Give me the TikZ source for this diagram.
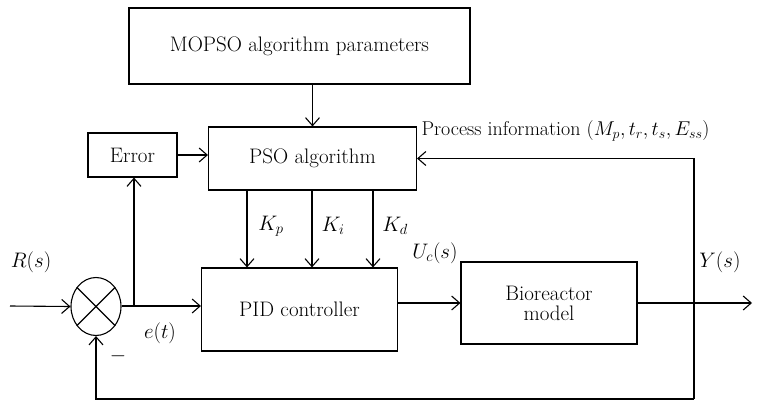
\RequirePackage{fix-cm}
\documentclass[tikz,border=0pt]{standalone}
\usepackage{fontspec}
\usetikzlibrary{arrows.meta,shapes.geometric}
\begin{document}
\begin{tikzpicture}[x=1pt,y=-1pt,
  font=\fontsize{21}{24}\selectfont,
  every path/.style={line width=1.1pt},
  blk/.style={draw,rectangle,align=center,inner sep=0pt},
  arr/.style={-{Straight Barb[length=8pt,width=14pt]}},
  lbl/.style={inner sep=0pt}]
\useasboundingbox (0,0) rectangle (761,402);
\node[blk,minimum width=341pt,minimum height=76pt] (mopso) at (299.5,46) {MOPSO algorithm parameters};
\node[blk,minimum width=208pt,minimum height=63pt] (pso) at (312.5,158.5) {PSO algorithm};
\node[blk,minimum width=89pt,minimum height=44pt] (err) at (132.5,155) {Error};
\node[blk,minimum width=196pt,minimum height=83pt] (pid) at (299.5,309.5) {PID controller};
\node[blk,minimum width=176pt,minimum height=82pt] (bio) at (549,303) {Bioreactor\\[-4pt]model};
\node[draw,ellipse,minimum width=50pt,minimum height=58pt,inner sep=0pt] (sum) at (96,306.5) {};
\draw (sum.45) -- (sum.225) (sum.135) -- (sum.-45);
\coordinate (in) at (10,306);
\coordinate (j) at (134,306);
\coordinate (out) at (752,303);
\coordinate (fb) at (694,399);
\coordinate (k1) at (247,190);
\coordinate (k2) at (312,190);
\coordinate (k3) at (373,190);
\draw[arr] (in) -- (sum.west);
\draw[arr] (sum.east |- j) -- (j -| pid.west);
\draw[arr] (j) -- (j |- err.south);
\draw[arr] (err.east) -- (err.east -| pso.west);
\draw[arr] (pso.north |- mopso.south) -- (pso.north);
\draw[arr] (k1) -- (k1 |- pid.north);
\draw[arr] (k2) -- (k2 |- pid.north);
\draw[arr] (k3) -- (k3 |- pid.north);
\draw[arr] (bio.west -| pid.east) -- (bio.west);
\draw[arr] (bio.east) -- (out);
\draw[arr] (fb) |- (pso.east);
\draw[arr] (fb) -| (sum.south);
\node[lbl] (lr) at (31,262) {$R(s)$};
\node[lbl] (le) at (160,333) {$e(t)$};
\node[lbl] (lm) at (118,356) {$-$};
\node[lbl] (lkp) at (271,226) {$K_p$};
\node[lbl] (lki) at (333,226) {$K_i$};
\node[lbl] (lkd) at (395,226) {$K_d$};
\node[lbl] (lu) at (435,253) {$U_c(s)$};
\node[lbl] (ly) at (720,262) {$Y(s)$};
\node[lbl,anchor=west,font=\fontsize{20}{24}\selectfont] (lp) at (421,131) {Process information $(M_p,t_r,t_s,E_{ss})$};
\end{tikzpicture}
\end{document}
